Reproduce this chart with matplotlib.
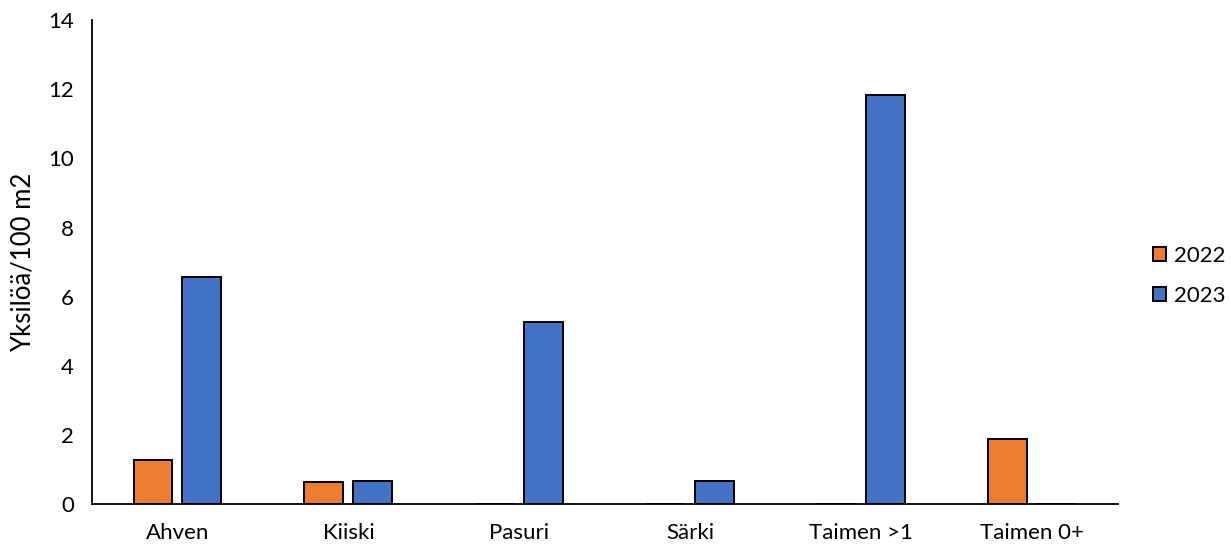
import numpy as np
import matplotlib.pyplot as plt

plt.rcParams['font.family'] = ['Lato', 'DejaVu Sans']

# Yksilötiheydet lajeittain
lajit = ['Ahven', 'Kiiski', 'Pasuri', 'Särki', 'Taimen >1', 'Taimen 0+']
v2022 = [1.28, 0.63, 0, 0, 0, 1.88]
v2023 = [6.58, 0.67, 5.26, 0.66, 11.84, 0]
vuodet = ['2022', '2023']
varit = ['#ED7D31', '#4472C4']

fig = plt.figure(figsize=(12.31, 5.46), dpi=100)
ax = fig.add_axes([0.0747, 0.077, 0.8333, 0.886])

x = np.arange(len(lajit))
w = 0.228
off = w / 2 + 0.029
for arvot, vuosi, vari, d in zip([v2022, v2023], vuodet, varit, [-off, off]):
    ax.bar(x + d, arvot, width=w, color=vari, edgecolor='black',
           linewidth=1.4, label=vuosi, zorder=2)

ax.set_xlim(-0.5, len(lajit) - 0.5)
ax.set_ylim(0, 14)
ax.set_yticks(np.arange(0, 15, 2))
ax.set_xticks(x)
ax.set_xticklabels(lajit)
ax.tick_params(axis='both', length=0, labelsize=16, colors='black')
ax.tick_params(axis='y', pad=13)
ax.tick_params(axis='x', pad=14)

for s in ['top', 'right']:
    ax.spines[s].set_visible(False)
for s in ['left', 'bottom']:
    ax.spines[s].set_linewidth(1.3)
    ax.spines[s].set_color('black')

ax.set_ylabel('Yksilöä/100 m2', fontsize=18.5, labelpad=9)

fig.legend(loc='center left', bbox_to_anchor=(1153 / 1231, 1 - 276 / 546),
           frameon=False, fontsize=16, handlelength=0.6, handleheight=0.6,
           handletextpad=0.35, labelspacing=0.9, borderpad=0, borderaxespad=0)

fig.savefig('out.png', dpi=100)
